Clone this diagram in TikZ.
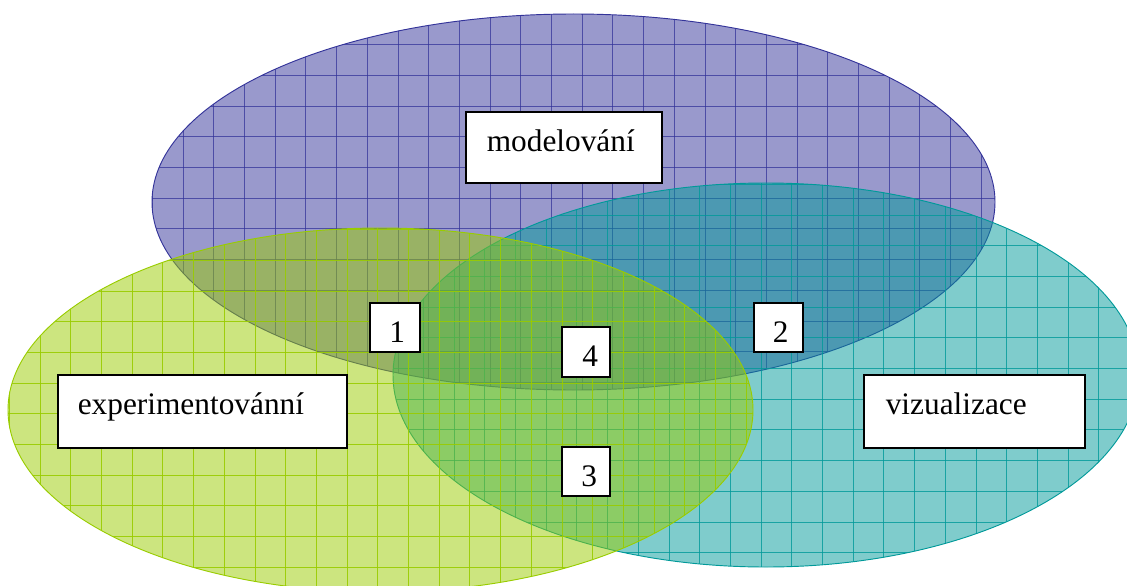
\documentclass[tikz,border=0pt]{standalone}
\usepackage{fontspec}
\setmainfont{Liberation Serif}
\usepackage{xcolor}
\usepackage{tikz}
\usetikzlibrary{positioning,calc}

\definecolor{modelblue}{HTML}{333399}
\definecolor{vizteal}{HTML}{009999}
\definecolor{expgreen}{HTML}{99CC00}

\tikzset{
  venn/.style={line width=0.7pt},
  gridline/.style={line width=0.6pt},
  labelbox/.style 2 args={draw, line width=1.2pt, fill=white, inner sep=0pt,
    anchor=north west, align=left, text width=#1, text height=30pt, text depth=#2,
    font=\fontsize{23.5}{28}\selectfont}
}

\begin{document}
\begin{tikzpicture}[x=0.75pt,y=-0.75pt]
            \useasboundingbox (0,0) rectangle (1127,585);
            \clip (0,0) rectangle (1127,585);

            % modelovani
            \begin{scope}
              \clip (573.5,202) ellipse (421.5 and 188);
              \fill[modelblue, fill opacity=0.5] (573.5,202) ellipse (421.5 and 188);
              \foreach \gx in {29.5,60.2,...,1127} \draw[gridline, modelblue, opacity=0.75] (\gx,0) -- (\gx,585);
              \foreach \gy in {13.9,44.6,...,585} \draw[gridline, modelblue, opacity=0.75] (0,\gy) -- (1127,\gy);
            \end{scope}
            \draw[venn, modelblue] (573.5,202) ellipse (421.5 and 188);

            % vizualizace
            \begin{scope}
              \clip (766,375) ellipse (373 and 192);
              \fill[vizteal, fill opacity=0.5] (766,375) ellipse (373 and 192);
              \foreach \gx in {24.2,54.9,...,1140} \draw[gridline, vizteal, opacity=0.8] (\gx,0) -- (\gx,585);
              \foreach \gy in {0,30.7,...,600} \draw[gridline, vizteal, opacity=0.8] (0,\gy) -- (1127,\gy);
            \end{scope}
            \draw[venn, vizteal] (766,375) ellipse (373 and 192);

            % experimentovanni
            \begin{scope}
              \clip (380.5,410) ellipse (372.5 and 182);
              \fill[expgreen, fill opacity=0.5] (380.5,410) ellipse (372.5 and 182);
              \foreach \gx in {9.3,40,...,1127} \draw[gridline, expgreen, opacity=0.9] (\gx,0) -- (\gx,600);
              \foreach \gy in {14.6,45.3,...,600} \draw[gridline, expgreen, opacity=0.9] (0,\gy) -- (1127,\gy);
            \end{scope}
            \draw[venn, expgreen] (380.5,410) ellipse (372.5 and 182);

            % Labels
            \node[labelbox={147pt}{23.25pt}] (model) at (465,111) {\hspace*{15.75pt}modelování};
            \node[labelbox={216.75pt}{24.75pt}] (exper) at (57,374) {\hspace*{15pt}experimentovánní};
            \node[labelbox={165.75pt}{24.75pt}] (vizual) at (863,374) {\hspace*{16.5pt}vizualizace};

            % Intersections
            \node[labelbox={37.5pt}{6.75pt}] (sec1) at (369,302) {\hspace*{14.6pt}1};
            \node[labelbox={36.75pt}{6.75pt}] (sec2) at (753,302) {\hspace*{14.25pt}2};
            \node[labelbox={36pt}{7.5pt}] (sec4) at (561,326) {\hspace*{15.4pt}4};
            \node[labelbox={36pt}{6.75pt}] (sec3) at (561,446) {\hspace*{14.7pt}3};
\end{tikzpicture}
\end{document}
